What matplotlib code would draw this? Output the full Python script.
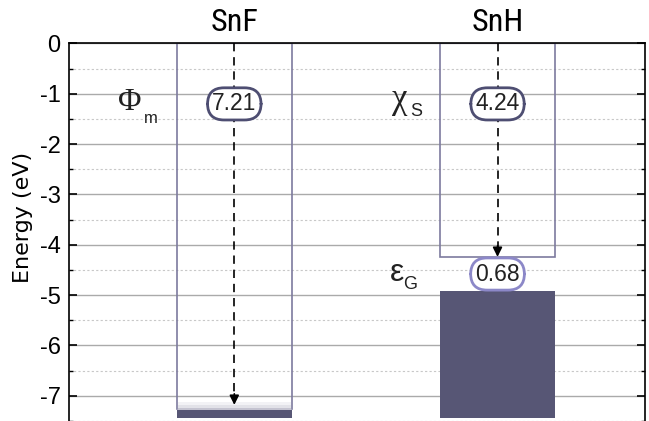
import numpy as np
import matplotlib
matplotlib.use('Agg')
import matplotlib.pyplot as plt
from matplotlib import font_manager
from matplotlib.patches import Rectangle

# =============================================================================
# DATA
# =============================================================================
materials = ['SnF', 'SnH']
work_function = 7.21       # Phi_m of SnF (eV)
electron_affinity = 4.24   # chi_S of SnH (eV)
band_gap = 0.68            # eps_G of SnH (eV)
y_ticks = [0, -1, -2, -3, -4, -5, -6, -7]

# =============================================================================
# STYLE
# =============================================================================
plt.rcParams['font.family'] = ['Liberation Sans', 'DejaVu Sans']
plt.rcParams['axes.unicode_minus'] = False

# narrow face for the column titles, if one is installed
installed = {f.name for f in font_manager.fontManager.ttflist}
NARROW = next((n for n in ['Liberation Sans Narrow', 'DejaVu Sans Condensed',
                           'Roboto Condensed', 'Open Sans Condensed']
               if n in installed), 'Liberation Sans')

FILL = '#575675'
EDGE = '#7d7a9e'
LBL_DARK = '#4e4e72'
LBL_LIGHT = '#8c88c8'
TXT = '#222222'

x_pos = [0.287, 0.744]     # column centres (axes fraction along x)
w = 0.2
y_bot = -7.45

fig = plt.figure(figsize=(6.49, 4.21), dpi=100)
ax = fig.add_axes([0.1063, 0.0, 0.8875, 0.8967])
ax.set_xlim(0, 1)
ax.set_ylim(y_bot, 0)

# grid
ax.set_yticks(y_ticks)
ax.set_yticks(np.arange(-7.5, 0, 1.0), minor=True)
ax.grid(True, which='major', axis='y', color='#aaaaaa', lw=1.0, zorder=0)
ax.grid(True, which='minor', axis='y', color='#c8c8c8', lw=0.8,
        linestyle=(0, (2, 2)), zorder=0)
ax.set_axisbelow(True)

# ---- SnF (metal) ----
xf = x_pos[0]
l, r = xf - w / 2, xf + w / 2
ax.plot([l, l, r, r], [-work_function - 0.06, 0, 0, -work_function - 0.06],
        color=EDGE, lw=1.2, zorder=2)
ax.add_patch(Rectangle((l, y_bot), w, -work_function - 0.07 - y_bot,
                       facecolor=FILL, edgecolor='none', zorder=3))
# soft edge at the Fermi level
for lo, hi, c in [(-7.13, -7.19, '#f2f2f5'), (-7.19, -7.24, '#e2e2e8'),
                  (-7.24, -7.28, '#c4c3d0')]:
    ax.add_patch(Rectangle((l + 0.002, hi), w - 0.004, lo - hi, facecolor=c,
                           edgecolor='none', zorder=2.5))

# ---- SnH (semiconductor) ----
xh = x_pos[1]
ax.add_patch(Rectangle((xh - w / 2, -electron_affinity), w, electron_affinity,
                       fill=False, edgecolor=EDGE, lw=1.2, zorder=2))
vb_top = -electron_affinity - band_gap
ax.add_patch(Rectangle((xh - w / 2, y_bot), w, vb_top - y_bot,
                       facecolor=FILL, edgecolor='none', zorder=3))

# ---- dashed arrows ----
for x, tip in [(xf, -work_function + 0.03), (xh, -electron_affinity)]:
    ax.plot([x, x], [0, tip + 0.2], color='k', lw=1.2,
            linestyle=(0, (5, 3.5)), zorder=4)
    ax.annotate('', xy=(x, tip), xytext=(x, tip + 0.22),
                arrowprops=dict(arrowstyle='-|>', color='k', lw=1.2,
                                mutation_scale=14, shrinkA=0, shrinkB=0),
                zorder=4)

# ---- value labels ----
def value_box(x, y, txt, ec):
    ax.text(x, y, txt, ha='center', va='center', fontsize=16.5, color=TXT,
            zorder=6,
            bbox=dict(boxstyle='round,pad=0.2,rounding_size=0.72',
                      facecolor='white', edgecolor=ec, lw=2))

value_box(xf, -1.2, f'{work_function:.2f}', LBL_DARK)
value_box(xh, -1.2, f'{electron_affinity:.2f}', LBL_DARK)
value_box(xh, -electron_affinity - band_gap / 2, f'{band_gap:.2f}', LBL_LIGHT)

# ---- symbols ----
ax.text(0.106, -1.17, 'Φ', ha='center', va='center', fontsize=23,
        family='Liberation Serif', color=TXT)
ax.text(0.142, -1.5, 'm', ha='center', va='center', fontsize=12, color=TXT)
ax.text(0.574, -1.12, 'χ', ha='center', va='center', fontsize=25,
        family='Liberation Serif', color=TXT)
ax.text(0.602, -1.36, 'S', ha='center', va='center', fontsize=13, color=TXT)
ax.text(0.569, -4.55, 'ε', ha='center', va='center', fontsize=23, color=TXT)
ax.text(0.593, -4.78, 'G', ha='center', va='center', fontsize=13, color=TXT)

# ---- axes cosmetics ----
ax.set_xticks(x_pos)
ax.set_xticklabels(materials, fontsize=23, family=NARROW)
ax.xaxis.tick_top()
ax.tick_params(axis='x', length=0, pad=5)
ax.tick_params(axis='y', which='major', direction='in', length=6, width=1.2,
               labelsize=17, right=True, pad=6)
ax.tick_params(axis='y', which='minor', direction='in', length=3, width=1.0,
               right=True)
ax.set_ylabel('Energy (eV)', fontsize=16, family='DejaVu Sans')
ax.yaxis.set_label_coords(-0.062, 0.54)
for s in ax.spines.values():
    s.set_linewidth(1.2)
ax.spines['bottom'].set_visible(False)

fig.savefig('out.png', dpi=100)
